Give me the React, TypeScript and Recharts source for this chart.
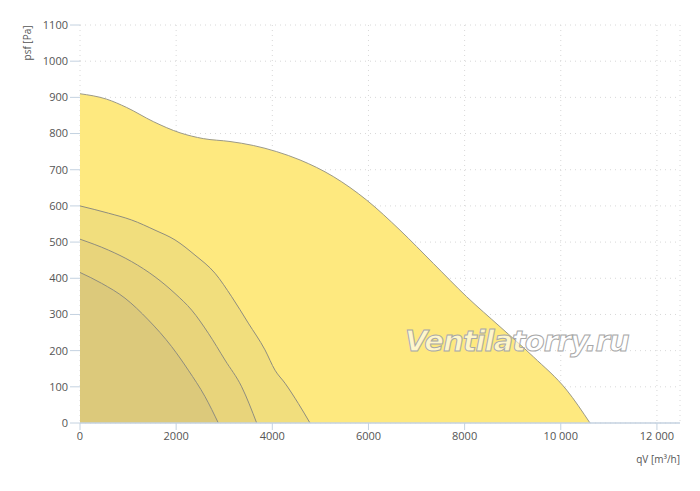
import { Area, CartesianGrid, ComposedChart, Label, XAxis, YAxis } from "recharts";

// fan curves: flow qV [m³/h] vs static pressure psf [Pa]
const curveMax = [
  { q: 0, p: 910 }, { q: 555, p: 895 }, { q: 971, p: 872 }, { q: 1525, p: 833 },
  { q: 2080, p: 802 }, { q: 2565, p: 786 }, { q: 3120, p: 778 }, { q: 3605, p: 767 },
  { q: 4091, p: 750 }, { q: 4576, p: 727 }, { q: 5270, p: 681 }, { q: 5963, p: 616 },
  { q: 6656, p: 533 }, { q: 7350, p: 441 }, { q: 8043, p: 349 }, { q: 8737, p: 266 },
  { q: 9430, p: 183 }, { q: 10123, p: 91 }, { q: 10608, p: 0 },
];
const curveHigh = [
  { q: 0, p: 600 }, { q: 589, p: 580 }, { q: 1075, p: 561 }, { q: 1560, p: 533 },
  { q: 1976, p: 506 }, { q: 2392, p: 464 }, { q: 2808, p: 414 }, { q: 3155, p: 349 },
  { q: 3501, p: 276 }, { q: 3848, p: 202 }, { q: 4056, p: 146 }, { q: 4264, p: 110 },
  { q: 4541, p: 54 }, { q: 4784, p: 0 },
];
const curveMid = [
  { q: 0, p: 508 }, { q: 589, p: 478 }, { q: 1075, p: 446 }, { q: 1560, p: 404 },
  { q: 1976, p: 358 }, { q: 2323, p: 312 }, { q: 2670, p: 248 }, { q: 3016, p: 174 },
  { q: 3363, p: 100 }, { q: 3675, p: 0 },
];
const curveLow = [
  { q: 0, p: 416 }, { q: 450, p: 386 }, { q: 936, p: 345 }, { q: 1421, p: 285 },
  { q: 1907, p: 211 }, { q: 2253, p: 146 }, { q: 2600, p: 73 }, { q: 2877, p: 0 },
];

const xTicks = [0, 2000, 4000, 6000, 8000, 10000, 12000];
const yTicks = [0, 100, 200, 300, 400, 500, 600, 700, 800, 900, 1000, 1100];

const fmtFlow = (v: number) => (v >= 10000 ? `${Math.floor(v / 1000)} ${String(v % 1000).padStart(3, "0")}` : String(v));

const tickStyle = { fill: "#555", fontSize: 11, fontFamily: "'Open Sans', sans-serif" };

export default function App() {
  return (
    <div style={{ position: "relative", width: 700, height: 491, background: "#fff" }}>
      <style>{`body{margin:0}`}</style>
      <ComposedChart width={700} height={491} margin={{ top: 25, right: 20, bottom: 38, left: 0 }}>
        <CartesianGrid stroke="#d8d8d8" strokeDasharray="1 4" />
        <XAxis
          type="number"
          dataKey="q"
          domain={[0, 12480]}
          ticks={xTicks}
          tickFormatter={fmtFlow}
          tick={tickStyle}
          tickLine={{ stroke: "#c4d2e0" }}
          tickSize={7}
          axisLine={{ stroke: "#c4d2e0", strokeWidth: 1.5 }}
          allowDataOverflow
        >
          <Label
            content={() => (
              <text x={680} y={463} textAnchor="end" fill="#555" fontSize={10} fontFamily="'Open Sans', sans-serif">
                qV [m³/h]
              </text>
            )}
          />
        </XAxis>
        <YAxis
          type="number"
          dataKey="p"
          domain={[0, 1100]}
          ticks={yTicks}
          tick={tickStyle}
          tickLine={{ stroke: "#c4d2e0" }}
          tickSize={10}
          axisLine={false}
          width={80}
        >
          <Label
            content={() => (
              <text
                x={31}
                y={43}
                transform="rotate(-90 31 43)"
                textAnchor="middle"
                fill="#555"
                fontSize={10}
                fontFamily="'Open Sans', sans-serif"
              >
                psf [Pa]
              </text>
            )}
          />
        </YAxis>
        <Area data={curveMax} dataKey="p" type="monotone" fill="#FEE97F" fillOpacity={1} stroke="#9c9a88" strokeWidth={1} isAnimationActive={false} />
        <Area data={curveHigh} dataKey="p" type="monotone" fill="#F1DE7D" fillOpacity={1} stroke="#8f8d7e" strokeWidth={1} isAnimationActive={false} />
        <Area data={curveMid} dataKey="p" type="monotone" fill="#E8D47B" fillOpacity={1} stroke="#8f8d7e" strokeWidth={1} isAnimationActive={false} />
        <Area data={curveLow} dataKey="p" type="monotone" fill="#DCC97B" fillOpacity={1} stroke="#8f8d7e" strokeWidth={1} isAnimationActive={false} />
      </ComposedChart>
      <div
        style={{
          position: "absolute",
          left: 405,
          top: 323,
          fontFamily: "'DejaVu Sans', sans-serif",
          fontStyle: "italic",
          fontWeight: "bold",
          fontSize: 29,
          lineHeight: "36px",
          color: "rgba(255,255,255,0.6)",
          WebkitTextStroke: "1px #a8a8a8",
          letterSpacing: -1,
          pointerEvents: "none",
        }}
      >
        Ventilatorry.ru
      </div>
    </div>
  );
}
